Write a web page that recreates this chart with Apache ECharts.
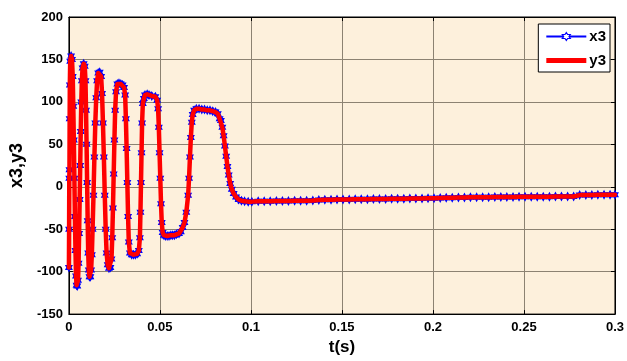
<!DOCTYPE html>
<html>
<head>
<meta charset="utf-8">
<script src="https://cdn.jsdelivr.net/npm/echarts@6/dist/echarts.min.js"></script>
<style>
  html, body { margin: 0; padding: 0; background: #fff; }
  #chart { width: 627px; height: 361px; }
</style>
</head>
<body>
<div id="chart"></div>
<script>
// sample times (s) of the variable-step solver
const time = [
  0, 0.0001, 0.0002, 0.0003, 0.0004, 0.0005, 0.0007, 0.0012, 0.0017,
  0.0021, 0.0024, 0.0027, 0.003, 0.0033, 0.0036, 0.0039, 0.0042, 0.0046, 0.005,
  0.0053, 0.0056, 0.0059, 0.0062, 0.0065, 0.0068, 0.0071, 0.0075, 0.0081, 0.0087,
  0.0091, 0.0094, 0.0097, 0.01, 0.0103, 0.0106, 0.0109, 0.0113, 0.0118, 0.0122,
  0.0126, 0.013, 0.0135, 0.014, 0.0145, 0.015, 0.0155, 0.0161, 0.0169, 0.0177,
  0.0182, 0.0187, 0.0192, 0.0197, 0.0202, 0.0207, 0.0213, 0.022, 0.0228, 0.0234,
  0.0238, 0.0242, 0.0246, 0.025, 0.0254, 0.0259, 0.0266, 0.0275, 0.0285, 0.0295, 0.0303, 0.0309,
  0.0313, 0.0317, 0.0321, 0.0325, 0.0329, 0.0335, 0.0345, 0.0355, 0.0365, 0.0375, 0.0384,
  0.039, 0.0393, 0.0396, 0.0399, 0.0402, 0.0406, 0.0412, 0.0418, 0.043, 0.044, 0.0455, 0.0475, 0.0485, 0.049,
  0.0494, 0.0498, 0.0502, 0.0506, 0.051, 0.0515, 0.0522, 0.053, 0.054, 0.055, 0.056, 0.057, 0.058, 0.059, 0.0605, 0.0615, 0.0625,
  0.0635, 0.0645, 0.0655, 0.066, 0.0665, 0.067, 0.0675, 0.068, 0.0688, 0.07, 0.0715, 0.073, 0.0745, 0.076, 0.0775, 0.079, 0.0805, 0.0818, 0.0828,
  0.0835, 0.0843, 0.085, 0.0857, 0.0864, 0.0871, 0.0878, 0.0886, 0.0895, 0.0905, 0.0918, 0.0932, 0.0948, 0.0965, 0.0985, 0.1005,
  0.104, 0.1073, 0.1106, 0.114, 0.1173, 0.1206, 0.124, 0.1273, 0.1306, 0.134,
  0.1373, 0.1406, 0.144, 0.1473, 0.1506, 0.154, 0.1573, 0.1606, 0.164, 0.1673,
  0.1706, 0.174, 0.1773, 0.1806, 0.184, 0.1873, 0.1906, 0.194, 0.1973, 0.2006,
  0.204, 0.2073, 0.2106, 0.214, 0.2173, 0.2206, 0.224, 0.2273, 0.2306, 0.234,
  0.2373, 0.2406, 0.244, 0.2473, 0.2506, 0.254, 0.2573, 0.2606, 0.264, 0.2673,
  0.2706, 0.274, 0.2773, 0.2806, 0.284, 0.2873, 0.2906, 0.294, 0.2973, 0.3
]

const x3 = [
  -95, -50, 10, 20, 80, 120, 148, 154, 150,
  130, 95, 55, 10, -35, -75, -105, -116, -117, -110,
  -90, -55, -15, 25, 65, 100, 125, 140, 145, 142,
  125, 90, 50, 5, -40, -78, -98, -106, -106, -98,
  -80, -50, -10, 35, 75, 105, 125, 134, 135, 130,
  110, 75, 35, -10, -50, -78, -92, -96, -95, -85,
  -60, -25, 15, 55, 90, 112, 121, 122, 121, 120, 117, 108,
  80, 45, 5, -35, -65, -78, -80, -80, -80, -79, -75,
  -60, -30, 5, 40, 75, 98, 104, 108, 109, 108, 107, 106, 102, 92,
  70, 40, 10, -20, -42, -54, -57, -58, -58, -58, -57, -57, -57, -56, -55, -53, -48,
  -42, -30, -10, 10, 35, 58, 76, 85, 90, 92, 92, 91, 91, 90, 90, 89, 88, 86, 80,
  78, 70, 60, 48, 36, 24, 14, 4, -3, -8, -12, -15, -16.5, -17, -17.5, -17.5,
  -17.2, -17, -17, -16.8, -16.8, -16.7, -16.6, -16.5, -16.4, -16.2,
  -15.6, -15.3, -15.2, -15.1, -15, -14.9, -14.8, -14.7, -14.6, -14.5,
  -14.4, -14.3, -14.2, -14.1, -14, -13.9, -13.8, -13.7, -13.6, -13.5,
  -13.2, -13, -12.8, -12.6, -12.5, -12.4, -12.3, -12.3, -12.2, -12.1,
  -12.1, -12, -12, -11.9, -11.9, -11.8, -11.8, -11.7, -11.7, -11.6,
  -11.6, -11.5, -11.4, -9.8, -9.6, -9.6, -9.5, -9.5, -9.4, -9.4
]

// the reference output tracks x3 to within a pixel everywhere
const y3 = x3

const xTickLabels = ['0', '0.05', '0.1', '0.15', '0.2', '0.25', '0.3']
const yTickLabels = ['-150', '-100', '-50', '0', '50', '100', '150', '200']

// six-pointed star marker (matlab 'h')
const hexagram = 'path://M0,-10L2.89,-5L8.66,-5L5.77,0L8.66,5L2.89,5L0,10L-2.89,5L-8.66,5L-5.77,0L-8.66,-5L-2.89,-5Z'
// thick bar for the y3 legend entry
const thickBar = 'path://M0,0H40V5H0Z'

const font = 'Arial, "Liberation Sans", sans-serif'
const gridColor = '#8c8272'

const chart = echarts.init(document.getElementById('chart'), null, { renderer: 'canvas' })

chart.setOption({
  animation: false,
  backgroundColor: '#fff',
  grid: {
    left: 67, right: 10, top: 17, bottom: 44,
    show: true,
    backgroundColor: '#fdf0dc',
    borderColor: '#000',
    borderWidth: 1
  },
  legend: {
    right: 17, top: 24,
    orient: 'vertical',
    backgroundColor: '#fff',
    borderColor: '#000',
    borderWidth: 1,
    borderRadius: 0,
    padding: [5, 4, 4, 7],
    itemWidth: 40,
    itemHeight: 10,
    itemGap: 9,
    textStyle: { fontFamily: font, fontWeight: 'bold', fontSize: 15, color: '#000', padding: [0, 0, 0, -2] },
    data: [
      { name: 'x3', itemStyle: { color: '#fff', borderColor: '#0000ff', borderWidth: 1.2 } },
      { name: 'y3', icon: thickBar }
    ]
  },
  xAxis: [
    {
      type: 'value',
      min: 0, max: 0.3, interval: 0.05,
      name: 't(s)',
      nameLocation: 'middle',
      nameGap: 18,
      nameTextStyle: { fontFamily: font, fontWeight: 'bold', fontSize: 17, color: '#000', verticalAlign: 'top' },
      axisLine: { onZero: false, lineStyle: { color: '#000', width: 1 } },
      axisTick: { inside: true, length: 4, lineStyle: { color: '#000' } },
      axisLabel: {
        margin: 7,
        fontFamily: font, fontWeight: 'bold', fontSize: 13, color: '#000',
        formatter: v => xTickLabels[Math.round(v / 0.05)]
      },
      splitLine: { show: true, lineStyle: { color: gridColor, width: 1 } }
    },
    {
      type: 'value', position: 'top',
      min: 0, max: 0.3, interval: 0.05,
      axisLine: { onZero: false, lineStyle: { color: '#000' } },
      axisTick: { inside: true, length: 4, lineStyle: { color: '#000' } },
      axisLabel: { show: false },
      splitLine: { show: false }
    }
  ],
  yAxis: [
    {
      type: 'value',
      min: -150, max: 200, interval: 50,
      name: 'x3,y3',
      nameLocation: 'middle',
      nameGap: 41,
      nameTextStyle: { fontFamily: font, fontWeight: 'bold', fontSize: 18, color: '#000' },
      axisLine: { show: true, onZero: false, lineStyle: { color: '#000', width: 1 } },
      axisTick: { show: true, inside: true, length: 4, lineStyle: { color: '#000' } },
      axisLabel: {
        margin: 6,
        fontFamily: font, fontWeight: 'bold', fontSize: 13, color: '#000',
        formatter: v => yTickLabels[Math.round((v + 150) / 50)]
      },
      splitLine: { show: true, lineStyle: { color: gridColor, width: 1 } }
    },
    {
      type: 'value', position: 'right',
      min: -150, max: 200, interval: 50,
      axisLine: { show: true, onZero: false, lineStyle: { color: '#000' } },
      axisTick: { show: true, inside: true, length: 4, lineStyle: { color: '#000' } },
      axisLabel: { show: false },
      splitLine: { show: false }
    }
  ],
  series: [
    {
      name: 'x3',
      type: 'line',
      data: time.map((t, i) => [t, x3[i]]),
      symbol: hexagram,
      symbolSize: [8, 10],
      showSymbol: true,
      showAllSymbol: true,
      lineStyle: { color: '#0000ff', width: 1 },
      itemStyle: { color: '#0000ff', borderWidth: 0 },
      emphasis: { disabled: true },
      z: 2
    },
    {
      name: 'y3',
      type: 'line',
      data: time.map((t, i) => [t, y3[i]]),
      symbol: 'none',
      lineStyle: { color: '#ff0000', width: 4.5, join: 'round', cap: 'round' },
      itemStyle: { color: '#ff0000' },
      emphasis: { disabled: true },
      z: 3
    }
  ]
})
</script>
</body>
</html>
